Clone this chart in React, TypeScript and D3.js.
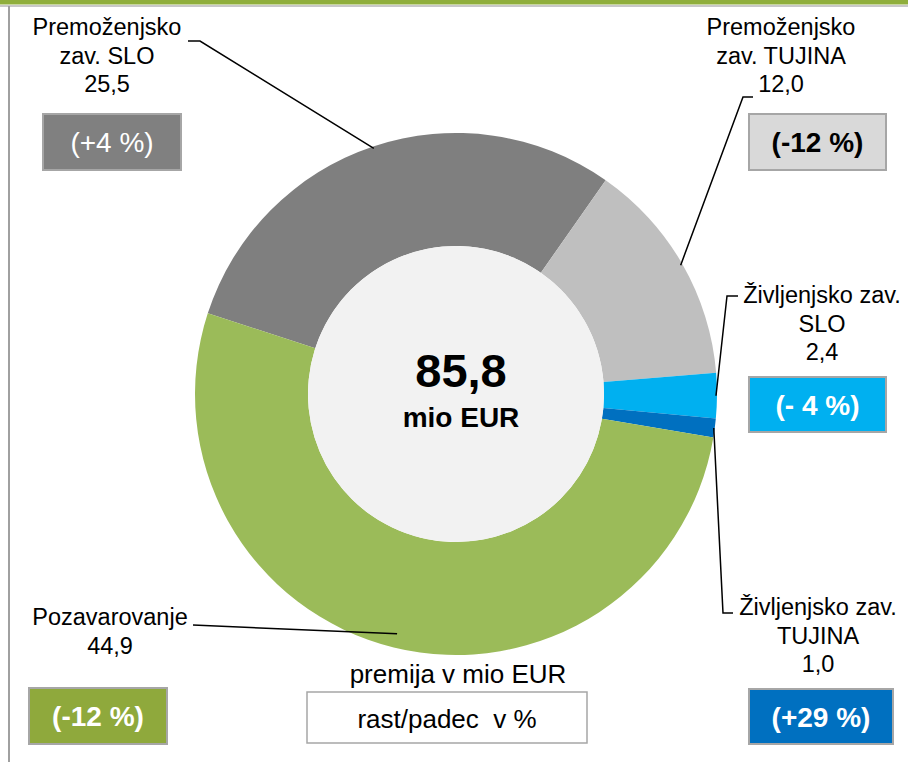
import * as d3 from 'd3';

// premija v mio EUR
const segments = ['Premoženjsko zav. SLO', 'Premoženjsko zav. TUJINA', 'Življenjsko zav. SLO', 'Življenjsko zav. TUJINA', 'Pozavarovanje'];
const premiums = [25.5, 12.0, 2.4, 1.0, 44.9];
const changes = ['(+4 %)', '(-12 %)', '(- 4 %)', '(+29 %)', '(-12 %)'];
const labelLines = [
  ['Premoženjsko', 'zav. SLO', '25,5'],
  ['Premoženjsko', 'zav. TUJINA', '12,0'],
  ['Življenjsko zav.', 'SLO', '2,4'],
  ['Življenjsko zav.', 'TUJINA', '1,0'],
  ['Pozavarovanje', '44,9'],
];
const totalLabel = '85,8';

const W = 908;
const H = 762;
const cx = 456;
const cy = 394;
const outerR = 261;
const innerR = 148;
const font = '"Liberation Sans", Arial, sans-serif';

const sliceColors = ['#7f7f7f', '#bfbfbf', '#00b0f0', '#0070c0', '#9bbb59'];

// label / box placement per segment
const labelPos = [
  { x: 107, y: 35 },
  { x: 781, y: 35 },
  { x: 822, y: 303 },
  { x: 818, y: 615 },
  { x: 110, y: 625 },
];
const boxes = [
  { x: 43, y: 114, w: 138, h: 56, fill: '#808080', color: '#fff', bold: false },
  { x: 749, y: 114, w: 137, h: 56, fill: '#d9d9d9', color: '#000', bold: true },
  { x: 749, y: 377, w: 137, h: 55, fill: '#00b0f0', color: '#fff', bold: true },
  { x: 749, y: 689, w: 144, h: 55, fill: '#0070c0', color: '#fff', bold: true },
  { x: 29, y: 688, w: 138, h: 56, fill: '#8fa93c', color: '#fff', bold: true },
];
// first elbow points of the leader lines (label side)
const leaderStart = [
  [[188, 41], [200, 41]],
  [[753, 97], [743, 97]],
  [[738, 296], [727, 296]],
  [[733, 613], [723, 613]],
  [[193, 625], [193, 625]],
];
const leaderR = [outerR - 2, outerR - 2, outerR - 1, outerR - 1, outerR - 14];

export default function App() {
  const pie = d3
    .pie<number>()
    .sort(null)
    .value((d) => d)
    .startAngle((-72 * Math.PI) / 180)
    .endAngle((288 * Math.PI) / 180);
  const arcs = pie(premiums);
  const arc = d3.arc<d3.PieArcDatum<number>>().innerRadius(innerR).outerRadius(outerR);

  const line = d3.line();

  return (
    <svg width={W} height={H} style={{ position: 'absolute', left: 0, top: 0, fontFamily: font }}>
      <rect width={W} height={H} fill="#fff" />
      <rect x={0} y={0} width={W} height={4.5} fill="#8fae3c" />
      <rect x={0} y={5} width={W} height={2} fill="#c8c8c8" />
      <rect x={8} y={6} width={2} height={H} fill="#a0a0a0" />

      <g transform={`translate(${cx},${cy})`}>
        {arcs.map((a, i) => (
          <path key={segments[i]} d={arc(a) || ''} fill={sliceColors[i]} />
        ))}
        <circle r={innerR} fill="#f2f2f2" />
        <text x={5} y={-7} textAnchor="middle" fontSize={47} fontWeight="bold">
          {totalLabel}
        </text>
        <text x={5} y={33} textAnchor="middle" fontSize={28} fontWeight="bold">
          mio EUR
        </text>
      </g>

      {arcs.map((a, i) => {
        const mid = (a.startAngle + a.endAngle) / 2;
        const r = leaderR[i];
        const end: [number, number] = [cx + r * Math.sin(mid), cy - r * Math.cos(mid)];
        const pts = [...leaderStart[i], end] as [number, number][];
        return <path key={'l' + i} d={line(pts) || ''} fill="none" stroke="#000" strokeWidth={1.5} />;
      })}

      {labelLines.map((lines, i) => (
        <text key={'t' + i} textAnchor="middle" fontSize={23.5} fill="#000">
          {lines.map((s, j) => (
            <tspan key={j} x={labelPos[i].x} y={labelPos[i].y + j * 28.5}>
              {s}
            </tspan>
          ))}
        </text>
      ))}

      {boxes.map((b, i) => (
        <g key={'b' + i}>
          <rect x={b.x} y={b.y} width={b.w} height={b.h} fill={b.fill} stroke="#a6a6a6" strokeWidth={2} />
          <text
            x={b.x + b.w / 2}
            y={b.y + b.h / 2 + 10}
            textAnchor="middle"
            fontSize={28}
            fontWeight={b.bold ? 'bold' : 'normal'}
            fill={b.color}
          >
            {changes[i]}
          </text>
        </g>
      ))}

      <text x={458} y={683} textAnchor="middle" fontSize={26}>
        premija v mio EUR
      </text>
      <rect x={307} y={692} width={280} height={51} fill="#fff" stroke="#a6a6a6" strokeWidth={1.5} />
      <text x={447} y={728} textAnchor="middle" fontSize={26} style={{ whiteSpace: 'pre' }}>
        {'rast/padec  v %'}
      </text>
    </svg>
  );
}
